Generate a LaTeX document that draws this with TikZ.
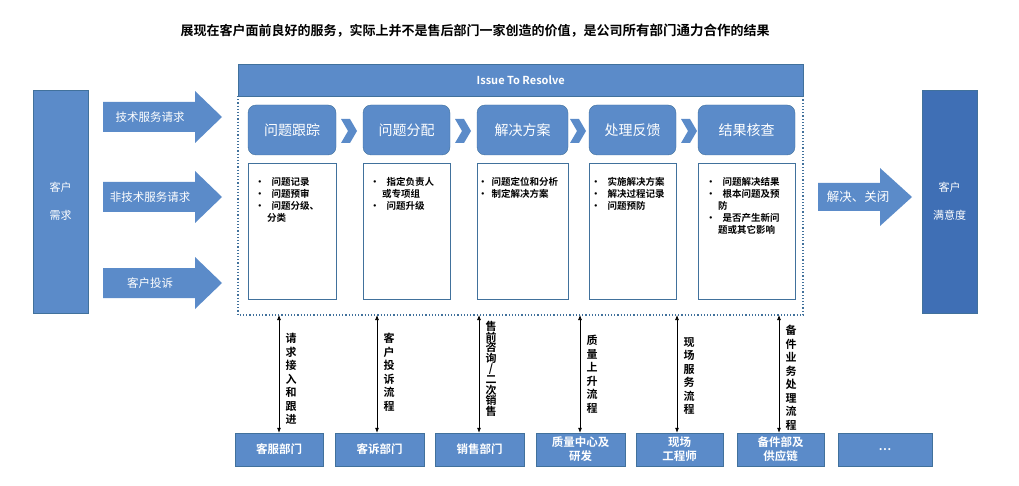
\documentclass[tikz,border=0pt]{standalone}
\usepackage{fontspec}
\setmainfont{Noto Sans CJK SC}[BoldFont={Noto Sans CJK SC Bold}]
\usetikzlibrary{shapes.arrows,arrows.meta}
\definecolor{bl}{HTML}{5B8BC9}
\definecolor{bd}{HTML}{41719C}
\definecolor{dk}{HTML}{3F6FB5}
\begin{document}
\begin{tikzpicture}[x=1pt,y=-1pt,
 bx/.style={draw=bd,fill=bl,text=white,inner sep=0pt,font=\bfseries\fontsize{11}{13}\selectfont,align=center},
 stage/.style={fill=bl,draw=bd,rounded corners=8pt,text=white,font=\fontsize{14}{16}\selectfont,inner sep=0pt},
 desc/.style={draw=bd,fill=white,line width=0.6pt},
 dtxt/.style={font=\bfseries\fontsize{9.5}{12}\selectfont,align=left,anchor=north west,text width=90pt,inner sep=0pt},
 vl/.style={font=\bfseries\fontsize{11}{13.5}\selectfont,align=center,anchor=north,inner sep=0pt},
 va/.style={{Latex[length=5pt,width=4pt]}-{Latex[length=5pt,width=4pt]},line width=0.7pt},
 barr/.style={fill=bl},
 chev/.style={fill=bl}]
\useasboundingbox (0,0) rectangle (1019,486);
\node[font=\bfseries\fontsize{13}{15}\selectfont] (title) at (475,31) {展现在客户面前良好的服务，实际上并不是售后部门一家创造的价值，是公司{\fontsize{13.5}{15}\selectfont 所有部门通力合作}的结果};
% left box
\node[bx,minimum width=55pt,minimum height=223pt,font=\fontsize{11}{28}\selectfont] (need) at (60.5,201.5) {客户\\需求};
% left arrows
\foreach \y/\t/\n in {117/技术服务请求/a1,197/非技术服务请求/a2,283/客户投诉/a3}{
 \fill[barr] (103,\y-15) -- (195,\y-15) -- (195,\y-26) -- (222,\y) -- (195,\y+26) -- (195,\y+15) -- (103,\y+15) -- cycle;
 \node[text=white,font=\fontsize{11.5}{14}\selectfont] (\n) at (150,\y) {\t};
}
% header + dotted frame
\node[bx,minimum width=565pt,minimum height=32pt,font=\bfseries\fontsize{11}{13}\selectfont,anchor=north west] (hdr) at (238,64) {Issue To Resolve};
\draw[bd,dotted,line width=1.2pt] (238,96) -- (238,315) -- (803,315) -- (803,96);
% stages
\foreach \xa/\xb/\t/\n in {248/336/问题跟踪/s1,363/450/问题分配/s2,477/568/解决方案/s3,589/676/处理反馈/s4,698/795/结果核查/s5}{
 \node[stage,minimum width={(\xb-\xa)*1pt},minimum height=50pt] (\n) at ({(\xa+\xb)/2},130) {\t};
 \draw[desc] (\xa,163) rectangle (\xb,299);
}
\foreach \x in {341,455,570,681}{
 \fill[chev] (\x,119) -- (\x+9,119) -- (\x+16,131) -- (\x+9,143) -- (\x,143) -- (\x+7,131) -- cycle;
}
\node[dtxt] (d1) at (255,177) {\textbullet\hspace{7pt}问题记录\\\textbullet\hspace{7pt}问题预审\\\textbullet\hspace{7pt}问题分级、\\\hspace*{12pt}分类};
\node[dtxt] (d2) at (370,177) {\textbullet\hspace{7pt}指定负责人\\\hspace*{12pt}或专项组\\\textbullet\hspace{7pt}问题升级};
\node[dtxt] (d3) at (478,177) {\textbullet\hspace{4pt}问题定位和分析\\\textbullet\hspace{4pt}制定解决方案};
\node[dtxt] (d4) at (591,177) {\textbullet\hspace{7pt}实施解决方案\\\textbullet\hspace{7pt}解决过程记录\\\textbullet\hspace{7pt}问题预防};
\node[dtxt] (d5) at (706,177) {\textbullet\hspace{7pt}问题解决结果\\\textbullet\hspace{7pt}根本问题及预\\\hspace*{12pt}防\\\textbullet\hspace{7pt}是否产生新问\\\hspace*{12pt}题或其它影响};
% right arrow and box
\fill[barr] (818,183) -- (880,183) -- (880,168) -- (912,197) -- (880,226) -- (880,211) -- (818,211) -- cycle;
\node[text=white,font=\fontsize{12.5}{14}\selectfont] (close) at (858,197) {解决、关闭};
\node[bx,fill=dk,minimum width=55pt,minimum height=223pt,font=\fontsize{11}{28}\selectfont] (sat) at (949.5,201.5) {客户\\满意度};
% bottom boxes
\foreach \xa/\xb/\t/\n in {235/323/客服部门/b1,335/424/客诉部门/b2,435/524/销售部门/b3,536/625/质量中心及\\研发/b4,636/723/现场\\工程师/b5,737/824/备件部及\\供应链/b6,838/932/…/b7}{
 \node[bx,minimum width={(\xb-\xa)*1pt},minimum height=33pt,font=\bfseries\fontsize{11.5}{14}\selectfont] (\n) at ({(\xa+\xb)/2},449.5) {\t};
}
\foreach \x/\b/\t/\ys/\ls in {279/b1/{请\\求\\接\\入\\和\\跟\\进}/333/13.5,377/b2/{客\\户\\投\\诉\\流\\程}/333/13.5,479/b3/{售\\前\\咨\\询\\/\\二\\次\\销\\售}/321/10.6,580/b4/{质\\量\\上\\升\\流\\程}/335/13.5,677/b5/{现\\场\\服\\务\\流\\程}/337/13.5,779/b6/{备\\件\\业\\务\\处\\理\\流\\程}/325/13.5}{
 \coordinate (t\b) at (\x,315);
 \draw[va] (t\b) -- (\b.north -| t\b);
 \node[vl,font=\bfseries\fontsize{11}{\ls}\selectfont] at (\x+12,\ys) {\t};
}
\end{tikzpicture}
\end{document}
